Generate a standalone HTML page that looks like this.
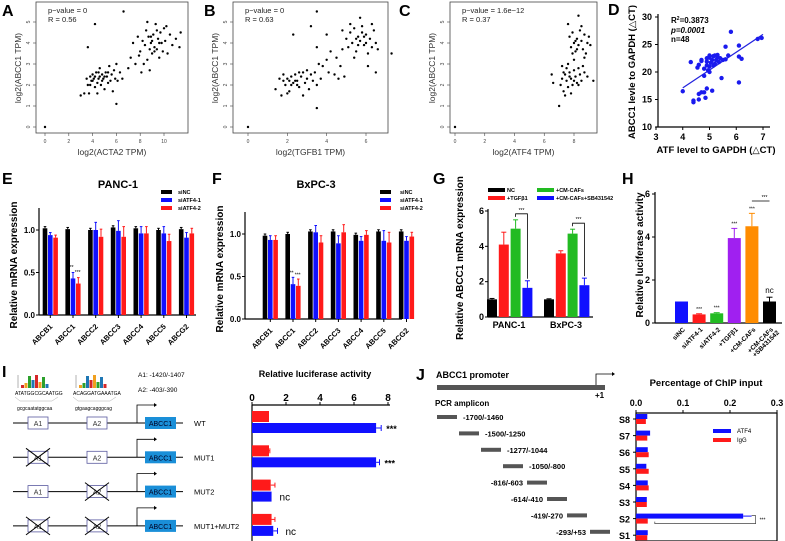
<!DOCTYPE html>
<html><head><meta charset="utf-8"><style>
html,body{margin:0;padding:0;background:#fff;}
svg{display:block;font-family:"Liberation Sans","DejaVu Sans",sans-serif;}
</style></head><body>
<svg id="s" width="785" height="541" xmlns="http://www.w3.org/2000/svg"></svg>
<script>
// ---------- data ----------
const scatterA=[[3.0,1.5],[3.3,1.6],[3.5,2.3],[3.6,2.0],[3.7,1.6],[3.8,2.4],[3.9,2.2],[4.0,2.5],[4.1,2.3],[4.2,1.9],[4.3,2.6],[4.4,2.1],[4.5,2.3],[4.6,2.8],[4.7,2.0],[4.8,2.5],[4.9,2.3],[5.0,1.8],[5.1,2.6],[5.2,2.4],[5.3,2.1],[5.4,2.9],[5.5,2.2],[5.6,2.5],[5.7,1.7],[5.8,2.7],[5.9,2.3],[6.0,3.0],[6.1,2.2],[6.3,2.6],[4.0,2.2],[4.2,2.4],[4.5,2.6],[4.8,2.2],[5.0,2.4],[3.8,2.0],[4.4,1.6],[6.5,2.3],[3.6,3.8],[4.2,4.9],[6.0,1.1],[6.6,5.5],[7.0,2.8],[7.2,3.3],[7.4,4.0],[7.6,3.0],[7.8,4.3],[8.0,3.6],[8.1,2.6],[8.2,4.1],[8.4,3.9],[8.5,4.6],[8.6,3.2],[8.7,4.3],[8.8,3.7],[8.9,4.0],[9.0,3.5],[9.1,4.4],[9.2,3.8],[9.3,4.9],[9.4,3.7],[9.5,4.2],[9.6,3.3],[9.7,4.5],[9.8,4.0],[9.9,3.6],[10.0,4.7],[10.1,4.1],[10.3,3.5],[10.5,4.4],[10.7,3.9],[11.0,4.2],[11.3,3.8],[11.4,4.5],[8.3,3.0],[9.0,4.1],[8.6,5.0],[9.4,4.6],[10.2,4.8],[7.9,3.4],[8.8,2.7],[9.2,3.6],[8.9,4.3],[9.6,4.0],[4.6,2.4],[5.3,2.6],[0,0]];
const scatterB=[[1.4,1.8],[1.6,2.3],[1.7,1.5],[1.8,2.5],[1.9,2.0],[2.0,2.3],[2.1,1.7],[2.2,2.4],[2.3,2.1],[2.4,2.5],[2.5,2.2],[2.6,1.9],[2.7,2.4],[2.8,2.6],[2.9,2.1],[3.0,2.3],[3.1,1.8],[3.2,2.5],[3.3,2.2],[3.5,2.0],[2.2,2.0],[2.4,2.2],[2.0,1.6],[2.6,2.6],[1.8,2.2],[3.0,2.7],[3.4,2.6],[3.7,2.3],[2.8,1.5],[2.3,4.4],[3.5,0.9],[3.2,4.8],[3.5,5.5],[3.6,3.0],[3.8,2.9],[4.0,3.2],[4.1,2.6],[4.2,3.6],[4.4,2.5],[4.5,3.3],[4.6,2.3],[4.7,2.9],[4.8,3.7],[4.9,2.4],[4.0,4.4],[3.5,3.8],[4.8,4.6],[5.0,4.2],[5.1,3.8],[5.2,4.5],[5.3,4.0],[5.4,4.7],[5.5,3.6],[5.6,4.3],[5.7,4.1],[5.8,4.8],[5.9,3.9],[6.0,4.4],[6.1,3.5],[6.2,4.2],[6.3,3.8],[6.4,4.6],[6.5,4.0],[6.6,3.7],[5.4,3.3],[5.6,3.9],[5.8,4.5],[6.0,4.0],[5.2,4.9],[6.1,2.9],[6.5,2.6],[7.3,3.5],[5.7,5.2],[6.3,4.9],[5.5,4.2],[5.9,4.3],[2.5,2.0],[2.1,2.2],[0,0]];
const scatterC=[[6.5,2.5],[6.6,2.1],[7.0,1.0],[7.1,2.0],[7.2,2.3],[7.3,1.7],[7.4,2.5],[7.5,2.2],[7.6,1.9],[7.7,2.6],[7.8,2.3],[7.9,2.0],[8.0,2.7],[8.1,2.4],[8.2,2.1],[8.3,2.8],[8.4,2.5],[8.5,2.2],[8.6,2.9],[8.7,2.6],[7.5,2.8],[7.3,2.6],[7.8,1.6],[8.0,3.2],[7.6,3.0],[8.9,2.4],[9.3,2.2],[8.3,2.0],[7.4,1.5],[7.2,2.9],[7.7,4.3],[7.8,3.8],[7.9,4.5],[8.0,4.0],[8.1,3.6],[8.2,4.2],[8.3,3.9],[8.4,4.6],[8.5,4.1],[8.6,3.7],[8.7,4.4],[8.8,3.5],[8.9,4.0],[9.0,4.3],[7.9,3.5],[8.2,3.7],[8.5,4.8],[8.3,5.3],[8.7,3.3],[9.1,3.9],[7.6,4.9],[8.1,4.1],[7.7,2.4],[8.0,2.2],[0,0]];
const scatterD=[[4.0,16.5],[4.3,21.8],[4.4,14.5],[4.4,14.8],[4.6,15.0],[4.6,16.0],[4.6,21.3],[4.7,16.3],[4.7,22.2],[4.8,16.3],[4.8,19.3],[4.8,20.6],[4.85,15.3],[4.9,17.0],[4.9,22.5],[4.95,20.3],[5.0,21.0],[5.0,22.6],[5.0,23.0],[5.05,21.7],[5.1,16.6],[5.1,22.2],[5.15,22.9],[5.2,21.5],[5.2,23.0],[5.3,22.7],[5.35,21.8],[5.4,22.5],[5.45,18.9],[5.5,22.2],[5.6,24.6],[5.7,23.0],[5.8,27.3],[6.1,24.8],[6.1,22.8],[6.1,18.1],[6.2,22.4],[6.8,26.0],[6.95,26.2],[4.9,21.2],[5.0,20.0],[5.25,22.2],[4.7,22.0],[4.9,21.9],[5.3,23.1],[5.6,22.3],[4.55,20.8],[5.15,21.2]];
const genes=['ABCB1','ABCC1','ABCC2','ABCC3','ABCC4','ABCC5','ABCG2'];
const siNames=['siNC','siATF4-1','siATF4-2'];
const E_nc=[1.02,1.01,1.0,1.03,1.02,1.0,1.01];
const E_si1=[0.94,0.43,1.0,0.99,0.96,0.96,0.91];
const E_si2=[0.91,0.37,0.92,0.92,0.96,0.87,0.96];
const E_err=[0.03,0.07,0.09,0.12,0.08,0.08,0.06];
const F_nc=[0.98,1.0,1.03,1.03,0.99,1.03,1.03];
const F_si1=[0.93,0.41,1.02,0.89,0.92,0.92,0.92];
const F_si2=[0.93,0.39,0.9,1.02,0.99,0.9,0.97];
const F_err=[0.05,0.08,0.08,0.09,0.05,0.12,0.05];
const gCells=['PANC-1','BxPC-3'];
const gNames=['NC','+TGFβ1','+CM-CAFs','+CM-CAFs+SB431542'];
const G_vals=[[1.0,4.1,5.0,1.65],[1.0,3.6,4.72,1.8]];
const G_err=[[0.05,0.7,0.5,0.4],[0.03,0.15,0.25,0.4]];
const hNames=['siNC','siATF4-1','siATF4-2','+TGFβ1','+CM-CAFs','+CM-CAFs\n+SB431542'];
const H_vals=[1.0,0.4,0.45,3.95,4.5,1.0];
const H_err=[0,0.03,0.03,0.45,0.6,0.2];
const iRows=['WT','MUT1','MUT2','MUT1+MUT2'];
const I_red=[1.0,1.0,1.1,1.15];
const I_blue=[7.3,7.3,1.15,1.25];
const I_redErr=[0,0.05,0.25,0.2];
const I_blueErr=[0.3,0.2,0,0.25];
const jSites=['S8','S7','S6','S5','S4','S3','S2','S1'];
const jAmplicons=['-1700/-1460','-1500/-1250','-1277/-1044','-1050/-800','-816/-603','-614/-410','-419/-270','-293/+53'];
const J_atf4=[0.024,0.03,0.025,0.022,0.025,0.023,0.228,0.025];
const J_igg=[0.021,0.024,0.027,0.027,0.027,0.023,0.025,0.024];

// ---------- helpers ----------
const NS='http://www.w3.org/2000/svg';
const svg=document.getElementById('s');
function mk(tag,attrs,name,parent){const e=document.createElementNS(NS,tag);for(const k in attrs)e.setAttribute(k,attrs[k]);


(parent||svg).appendChild(e);return e;}
function T(x,y,s,size,name,o){const e=mk('text',Object.assign({x:x,y:y,'font-size':size},o||{}),name);e.textContent=s;return e;}
function B(x,y,s,size,name,o){return T(x,y,s,size,name,Object.assign({'font-weight':'bold'},o||{}));}
function L(x1,y1,x2,y2,name,w,c){return mk('line',{x1:x1,y1:y1,x2:x2,y2:y2,stroke:c||'#000','stroke-width':w||1},name);}
function R(x,y,w,h,fill,name){return mk('rect',{x:x,y:y,width:w,height:h,fill:fill},name);}
function lin(d0,d1,r0,r1){return v=>r0+(v-d0)*(r1-r0)/(d1-d0);}
const BLUE='#1010ff',RED='#ff1a1a',GREEN='#22bb22';

[['A',2,16],['B',204,16],['C',399,16],['D',608,15],['E',2,184],['F',212,184],['G',433,184],['H',622,184],['I',2,377],['J',416,380]].forEach(p=>B(p[1],p[2],p[0],16,'panel-label-'+p[0].toLowerCase()));

// ---------- scatter A/B/C ----------
function scatter(key,pts,bx0,bx1,xd,xr,xticks,xlabel,p1,p2){
  const sx=lin(xd[0],xd[1],xr[0],xr[1]);const sy=lin(0,5,127,22);
  mk('rect',{x:bx0,y:2,width:bx1-bx0,height:131,fill:'none',stroke:'#444','stroke-width':0.8},key+'-plot-box');
  xticks.forEach(t=>{L(sx(t),133,sx(t),136,key+'-x-tick',0.6,'#444');T(sx(t),143,String(t),5,key+'-x-tick-label',{'text-anchor':'middle',fill:'#444'});});
  [0,1,2,3,4,5].forEach(t=>{L(bx0-3,sy(t),bx0,sy(t),key+'-y-tick',0.6,'#444');T(bx0-6,sy(t),String(t),5,key+'-y-tick-label',{'text-anchor':'middle',fill:'#444',transform:'rotate(-90 '+(bx0-6)+' '+sy(t)+')'});});
  pts.forEach(p=>{mk('circle',{cx:sx(p[0]),cy:sy(p[1]),r:1.2,fill:'#000'},key+'-point');});
  T(bx0+12,13,p1,7.5,key+'-pvalue',{fill:'#222'});
  T(bx0+12,22,p2,7.5,key+'-r-value',{fill:'#222'});
  T((bx0+bx1)/2,155,xlabel,8.5,key+'-x-axis-title',{'text-anchor':'middle',fill:'#333'});
  const yx=bx0-15;T(yx,68,'log2(ABCC1 TPM)',8.5,key+'-y-axis-title',{'text-anchor':'middle',fill:'#333',transform:'rotate(-90 '+yx+' 68)'});
}
scatter('a',scatterA,36,188,[0,10],[45,164],[0,2,4,6,8,10],'log2(ACTA2 TPM)','p−value = 0','R = 0.56');
scatter('b',scatterB,233,388,[0,6],[248,366],[0,2,4,6],'log2(TGFB1 TPM)','p−value = 0','R = 0.63');
scatter('c',scatterC,450,597,[0,8],[455,574],[0,2,4,6,8],'log2(ATF4 TPM)','p−value = 1.6e−12','R = 0.37');

// ---------- D ----------
(function(){
  const sx=lin(3,7,656,763),sy=lin(10,30,127,17);
  L(658,14,658,127,'d-y-axis',1.2);L(656,127,770,127,'d-x-axis',1.2);
  [3,4,5,6,7].forEach(t=>{L(sx(t),127,sx(t),130,'d-x-tick',1);B(sx(t),140,String(t),9,'d-x-tick-label',{'text-anchor':'middle'});});
  [10,15,20,25,30].forEach(t=>{L(655,sy(t),658,sy(t),'d-y-tick',1);B(652,sy(t)+3,String(t),9,'d-y-tick-label',{'text-anchor':'end'});});
  let n=scatterD.length,mx=0,my=0;scatterD.forEach(p=>{mx+=p[0];my+=p[1];});mx/=n;my/=n;
  let sxy=0,sxx=0;scatterD.forEach(p=>{sxy+=(p[0]-mx)*(p[1]-my);sxx+=(p[0]-mx)**2;});
  const b=sxy/sxx,a=my-b*mx;
  L(sx(4),sy(a+b*4),sx(7),sy(a+b*7),'d-regression-line',1.2,'#2222dd');
  scatterD.forEach(p=>mk('circle',{cx:sx(p[0]),cy:sy(p[1]),r:2.2,fill:'#1a1aee'},'d-point'));
  const t=B(671,23,'R',8,'d-r-squared');const ts=document.createElementNS(NS,'tspan');ts.setAttribute('baseline-shift','super');ts.setAttribute('font-size','5');ts.textContent='2';t.appendChild(ts);const ts2=document.createElementNS(NS,'tspan');ts2.textContent='=0.3873';t.appendChild(ts2);
  B(671,33,'p=0.0001',8,'d-p-value',{'font-style':'italic'});
  B(671,42,'n=48',8,'d-n');
  B(716,153,'ATF level to GAPDH (△CT)',9.5,'d-x-axis-title',{'text-anchor':'middle'});
  B(635,72,'ABCC1 levle to GAPDH (△CT)',9.5,'d-y-axis-title',{'text-anchor':'middle',transform:'rotate(-90 635 72)'});
})();

// ---------- E/F ----------
function groupBars(key,ax,y0,top,firstX,nc,s1,s2,err,title,tx,legX,legTX){
  const sy=lin(0,1,y0,y0-85);
  L(ax,top,ax,y0,key+'-y-axis',1.2);L(ax,y0,ax+157,y0,key+'-x-axis',1.2);
  [0,0.5,1].forEach(t=>{L(ax-3,sy(t),ax,sy(t),key+'-y-tick',1);B(ax-4,sy(t)+3,t.toFixed(1),8,key+'-y-tick-label',{'text-anchor':'end'});});
  const series=[nc,s1,s2],cols=['#000',BLUE,RED];
  genes.forEach((g,i)=>{
    const cx=firstX+i*22.7;
    series.forEach((vals,j)=>{
      const x=cx+j*5.3-2.3;
      R(x,sy(vals[i]),4.6,y0-sy(vals[i]),cols[j],key+'-bar-'+g.toLowerCase()+'-'+j);
      const e=(j===0?0.02:err[i]);
      L(x+2.3,sy(vals[i]+e),x+2.3,sy(vals[i]),key+'-error-bar',1,cols[j]);
      L(x+1,sy(vals[i]+e),x+3.6,sy(vals[i]+e),key+'-error-cap',1,cols[j]);
    });
    const lx=cx+8,ly=y0+12;
    B(lx,ly,g,7.5,key+'-x-tick-label',{'text-anchor':'end',transform:'rotate(-45 '+lx+' '+ly+')'});
    L(cx+5.3,y0,cx+5.3,y0+3,key+'-x-tick',1);
  });
  const cx1=firstX+22.7;
  T(cx1+3,sy(s1[1]+0.1)-1,'***',5,key+'-sig-1',{'text-anchor':'middle'});
  T(cx1+10,sy(s2[1]+0.1)-1,'***',5,key+'-sig-2',{'text-anchor':'middle'});
  B(tx,188,title,11,key+'-title',{'text-anchor':'middle'});
  siNames.forEach((n,j)=>{R(legX,190+j*8,11,4,['#000',BLUE,RED][j],key+'-legend-swatch');B(legTX,194+j*8,n,5.5,key+'-legend-label');});
  const yx=ax-22,yc=y0-50;B(yx,yc,'Relative  mRNA expression',10,key+'-y-axis-title',{'text-anchor':'middle',transform:'rotate(-90 '+yx+' '+yc+')'});
}
groupBars('e',39,315,208,45,E_nc,E_si1,E_si2,E_err,'PANC-1',118,161,178);
groupBars('f',245,319,212,265,F_nc,F_si1,F_si2,F_err,'BxPC-3',316,380,400);

// ---------- G ----------
(function(){
  const sy=lin(0,6,317,211),ax=488;
  L(ax,209,ax,317,'g-y-axis',1.2);L(ax,317,593,317,'g-x-axis',1.2);
  [0,2,4,6].forEach(t=>{L(ax-3,sy(t),ax,sy(t),'g-y-tick',1);B(ax-4,sy(t)+3,String(t),9,'g-y-tick-label',{'text-anchor':'end'});});
  const cols=['#000',RED,GREEN,BLUE];const starts=[492,549];
  gCells.forEach((c,ci)=>{
    G_vals[ci].forEach((v,j)=>{const x=starts[ci]+j*11.8-5;R(x,sy(v),10,317-sy(v),cols[j],'g-bar-'+c.toLowerCase()+'-'+j);
      L(x+5,sy(v+G_err[ci][j]),x+5,sy(v),'g-error-bar',1,cols[j]);L(x+2.5,sy(v+G_err[ci][j]),x+7.5,sy(v+G_err[ci][j]),'g-error-cap',1,cols[j]);});
    const gx=starts[ci]+2*11.8,bx=starts[ci]+3*11.8,ty=sy(G_vals[ci][2]+G_err[ci][2])-6;
    mk('polyline',{points:gx+','+(ty+3)+' '+gx+','+ty+' '+bx+','+ty+' '+bx+','+(sy(G_vals[ci][3]+G_err[ci][3])-2),fill:'none',stroke:'#000','stroke-width':0.8},'g-sig-bracket');
    T((gx+bx)/2,ty-2,'***',5,'g-sig-label',{'text-anchor':'middle'});
    B(starts[ci]+17,328,c,9,'g-x-tick-label',{'text-anchor':'middle'});
  });
  gNames.forEach((n,j)=>{const lx=j<2?488:537,ly=188+(j%2)*8;R(lx,ly,17,4,cols[j],'g-legend-swatch');B(lx+19,ly+4,n,5.5,'g-legend-label');});
  B(463,258,'Relative  ABCC1 mRNA expression',10,'g-y-axis-title',{'text-anchor':'middle',transform:'rotate(-90 463 258)'});
})();

// ---------- H ----------
(function(){
  const sy=lin(0,4,323,237),ax=655;
  L(ax,192,ax,323,'h-y-axis',1.2);L(ax,323,782,323,'h-x-axis',1.2);
  [0,2,4,6].forEach(t=>{L(ax-3,sy(t),ax,sy(t),'h-y-tick',1);B(ax-5,sy(t)+3,String(t),9,'h-y-tick-label',{'text-anchor':'end'});});
  const cols=[BLUE,RED,GREEN,'#a020f0','#ff8c00','#000'];
  hNames.forEach((n,i)=>{const cx=681.5+i*17.6,v=H_vals[i];
    R(cx-6.5,sy(v),13,323-sy(v),cols[i],'h-bar-'+i);
    if(H_err[i]>0){L(cx,sy(v+H_err[i]),cx,sy(v),'h-error-bar',1,cols[i]);L(cx-3,sy(v+H_err[i]),cx+3,sy(v+H_err[i]),'h-error-cap',1,cols[i]);}
    if(i>0&&i<5)T(cx,sy(v+H_err[i])-3,'***',5,'h-sig-label',{'text-anchor':'middle'});
    const lines=n.split('\n');lines.forEach((ln,k)=>{const lx=cx+4+k*6,ly=330+k*3;B(lx,ly,ln,6.5,'h-x-tick-label',{'text-anchor':'end',transform:'rotate(-45 '+lx+' '+ly+')'});});
  });
  const c5=681.5+5*17.6;T(c5,sy(1.2)-4,'nc',8,'h-nc-label',{'text-anchor':'middle'});
  L(681.5+4*17.6,201,c5,201,'h-sig-bracket',0.8);T(c5-5,199,'***',5,'h-sig-top',{'text-anchor':'middle'});
  B(643,255,'Relative luciferase activity',10,'h-y-axis-title',{'text-anchor':'middle',transform:'rotate(-90 643 255)'});
})();

// ---------- I diagram ----------
(function(){
  const logoCols=['#d62728','#f0a020','#2ca02c','#1f77b4'];
  [[16,'ATATGGCGCAATGG','gcgcaatatggcaa'],[74,'ACAGGATGAAATGA','gtgaagcagggcag']].forEach((m,mi)=>{
    for(let k=0;k<8;k++){const h=[3,5,12,8,13,6,11,4][k];R(m[0]+5+k*3.5,388-h,3,h,logoCols[(k+mi)%4],'i-motif-logo-bar');}
    L(m[0]+2,375,m[0]+2,388,'i-logo-axis',0.5,'#666');
    T(m[0]-1,395,m[1],5,'i-motif-sequence');
    mk('polyline',{points:(m[0]-1)+',397 '+(m[0]+4)+',401 '+(m[0]+36)+',401 '+(m[0]+42)+',397',fill:'none',stroke:'#999','stroke-width':0.4},'i-motif-bracket');
    T(m[0]+1,410,m[2],5,'i-motif-lowercase');
  });
  T(138,377,'A1: -1420/-1407',6.5,'i-site-a1');T(138,392,'A2: -403/-390',6.5,'i-site-a2');
  iRows.forEach((r,i)=>{const y=423+i*34.3;
    L(13,y,183,y,'i-promoter-line-'+i,1);
    [[28,'A1'],[87,'A2']].forEach((b,bi)=>{mk('rect',{x:b[0],y:y-6,width:20,height:12,fill:'#fff',stroke:'#5a5aa0','stroke-width':0.8},'i-site-box');T(b[0]+10,y+3,b[1],7,'i-site-label',{'text-anchor':'middle',fill:'#333'});
      const mut=(bi===0&&(i===1||i===3))||(bi===1&&(i===2||i===3));
      if(mut){L(b[0]-2,y-9,b[0]+22,y+9,'i-mutation-cross',1);L(b[0]-2,y+9,b[0]+22,y-9,'i-mutation-cross',1);}});
    R(145,y-6,31,12,'#1a8fd8','i-abcc1-box');T(160.5,y+3,'ABCC1',7,'i-abcc1-label',{'text-anchor':'middle',fill:'#002'});
    mk('polyline',{points:'137,'+y+' 137,'+(y-18)+' 154,'+(y-18),fill:'none',stroke:'#000','stroke-width':0.8},'i-tss-arrow');
    mk('polygon',{points:'154,'+(y-20)+' 157,'+(y-18)+' 154,'+(y-16),fill:'#000'},'i-tss-arrowhead');
    T(194,y+3,r,7.5,'i-row-label');
  });
})();

// ---------- I chart ----------
(function(){
  const sx=lin(0,8,252,388);
  B(315,377,'Relative luciferase activity',9,'i-chart-title',{'text-anchor':'middle'});
  L(252,405,390,405,'i-x-axis',1.2);L(252,405,252,541,'i-y-axis',1.2);
  [0,2,4,6,8].forEach(t=>{L(sx(t),402,sx(t),405,'i-x-tick',1);B(sx(t),401,String(t),10,'i-x-tick-label',{'text-anchor':'middle'});});
  iRows.forEach((r,i)=>{const y=411+i*34.3;
    R(252,y,sx(I_red[i])-252,11,RED,'i-bar-red-'+i);
    if(I_redErr[i]>0){L(sx(I_red[i]),y+5.5,sx(I_red[i]+I_redErr[i]),y+5.5,'i-error-bar',1,RED);L(sx(I_red[i]+I_redErr[i]),y+3,sx(I_red[i]+I_redErr[i]),y+8,'i-error-cap',1,RED);}
    R(252,y+12,sx(I_blue[i])-252,10,BLUE,'i-bar-blue-'+i);
    if(I_blueErr[i]>0){L(sx(I_blue[i]),y+17,sx(I_blue[i]+I_blueErr[i]),y+17,'i-error-bar',1,BLUE);L(sx(I_blue[i]+I_blueErr[i]),y+14,sx(I_blue[i]+I_blueErr[i]),y+20,'i-error-cap',1,BLUE);}
    if(i<2)B(sx(I_blue[i]+I_blueErr[i])+5,y+21,'***',9,'i-sig-label');
    else T(sx(I_blue[i]+I_blueErr[i])+8,y+21,'nc',10,'i-nc-label');
  });
})();

// ---------- J ----------
(function(){
  B(436,378,'ABCC1 promoter',9,'j-promoter-title');
  R(437,385,168,5,'#555','j-promoter-bar');
  mk('polyline',{points:'596,385 596,374 612,374',fill:'none',stroke:'#000','stroke-width':0.8},'j-tss-arrow');
  mk('polygon',{points:'612,372 615,374 612,376',fill:'#000'},'j-tss-arrowhead');
  B(595,398,'+1',8,'j-plus-one');
  B(435,406,'PCR  amplicon',8,'j-pcr-label');
  const barX=[437,459,481,503,527,547,567,590];
  jAmplicons.forEach((a,i)=>{const y=417+i*16.4;R(barX[i],y-2,20,4,'#555','j-amplicon-bar');
    if(i<4)B(barX[i]+26,y+3,a,7.5,'j-amplicon-label');else B(barX[i]-4,y+3,a,7.5,'j-amplicon-label',{'text-anchor':'end'});});
  const sx=lin(0,0.3,636,777);
  B(706,386,'Percentage of ChIP input',9.5,'j-chart-title',{'text-anchor':'middle'});
  mk('rect',{x:636,y:413,width:141,height:128,fill:'none',stroke:'#000','stroke-width':1.2},'j-plot-box');
  [0,0.1,0.2,0.3].forEach(t=>{L(sx(t),410,sx(t),413,'j-x-tick',1);B(sx(t),406,t.toFixed(1),9,'j-x-tick-label',{'text-anchor':'middle'});});
  jSites.forEach((s,i)=>{const c=419+i*16.6;
    B(630,c+4,s,9,'j-site-label',{'text-anchor':'end'});L(633,c,636,c,'j-y-tick',1);
    R(636,c-5,sx(J_atf4[i])-636,5,BLUE,'j-bar-atf4-'+s.toLowerCase());
    R(636,c,sx(J_igg[i])-636,5,RED,'j-bar-igg-'+s.toLowerCase());
  });
  const c2=419+6*16.6,e=sx(J_atf4[6]+0.018);
  L(sx(J_atf4[6]),c2-2.5,e,c2-2.5,'j-error-bar',1,BLUE);
  mk('polyline',{points:e+','+(c2-3)+' '+(e+4)+','+(c2-3)+' '+(e+4)+','+(c2+5)+' '+(sx(0.04))+','+(c2+5)+' '+(sx(0.04))+','+(c2+3),fill:'none',stroke:'#444','stroke-width':0.7},'j-sig-bracket');
  T(e+8,c2+3,'***',5,'j-sig-label');
  R(713,429,18,4,BLUE,'j-legend-swatch-atf4');T(737,433,'ATF4',6,'j-legend-atf4');
  R(713,438,18,4,RED,'j-legend-swatch-igg');T(737,442,'IgG',6,'j-legend-igg');
})();
</script>
</body></html>
